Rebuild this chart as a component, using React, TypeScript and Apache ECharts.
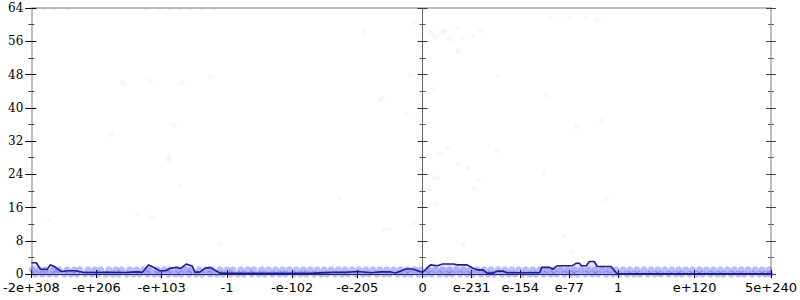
import React, { useEffect, useRef } from "react";
import * as echarts from "echarts";

// Horizontal axis is a float-ordering scale; positions are given in axis units where 0 is the zero point.
const X_MIN = -394;
const X_MAX = 351;
const tickValues = [-394, -328.3, -262.7, -197, -131.3, -65.7, 0, 49.3, 98.5, 147.8, 197, 274, 351];
const tickLabels = ["-2e+308", "-e+206", "-e+103", "-1", "-e-102", "-e-205", "0", "e-231", "e-154", "e-77", "1", "e+120", "5e+240"];

// Sparse scatter points [x, y]
const sparsePoints: [number, number][] = [
  [-392, 63.8], [-389, 63.8], [-382, 63.8], [-372, 63.8], [-357, 63.8],
  [-279, 63.8], [-264, 63.8], [-254, 63.8], [-245, 63.8], [-235, 63.8], [-222, 63.8], [-210, 63.8],
  [-302, 46.0], [-274, 46.5], [-242, 46.0], [-214, 47.4],
  [-9, 60.5], [-1, 57.7], [9, 58], [12, 57], [20, 58], [22, 58.5], [25, 56.8], [28, 56.5],
  [35, 59], [40, 56.8], [51, 57.3], [58, 58.5], [36, 53.7], [-12, 47.9], [76, 47.6], [10, 44.5], [-40, 42.3],
  [128, 61.6], [148, 61.6], [165, 61.6], [176, 61.3], [125, 43],
  [-376, 12.8], [-313, 33.6], [-250, 35.8], [-256, 27.4], [-255, 27.9], [-245, 21.2], [-287, 14.4], [-273, 13.6],
  [-43, 41.9], [-16, 38.3], [25, 30.2], [18, 28.9], [36, 26.6], [46, 25.5], [75, 29.7], [11, 23.2], [15, 23.1],
  [56, 22.6], [7, 20.5], [52, 20.5], [-84, 18.3], [14, 17], [-9, 12.3], [-39, 10.7], [-33, 10.7], [-59, 58.4],
  [155, 35.4], [181, 36.9], [122, 24.3], [185, 18], [142, 9.1], [151, 5.5],
  [41, 7], [9, 3.5], [66, 1.4], [-204, 7],
];

// Dense low-count points: x positions at y = 1 and y = 0
const bandXAtOne = [-393, -386, -380, -372, -366, -358, -351, -345, -337, -330, -324, -316, -309, -303, -295, -288, -281, -275, -267, -260, -254, -246, -239, -233, -225, -218, -212, -204, -197, -191, -183, -176, -170, -162, -155, -148, -141, -134, -127, -120, -113, -106, -99, -92, -85, -78, -71, -64, -57, -50, -43, -36, -29, -22, -15, -8, -2, 6, 13, 20, 27, 34, 41, 48, 55, 62, 69, 76, 83, 90, 97, 104, 111, 118, 125, 132, 139, 146, 153, 160, 167, 174, 181, 188, 195, 202, 209, 216, 223, 230, 237, 244, 251, 258, 265, 272, 279, 286, 293, 300, 307, 314, 321, 328, 335, 342, 349];
const bandXAtZero = [-390, -383, -376, -369, -361, -354, -348, -340, -333, -327, -319, -312, -306, -298, -291, -285, -277, -270, -264, -256, -249, -243, -235, -228, -222, -214, -207, -201, -193, -186, -180, -172, -165, -159, -151, -144, -138, -130, -123, -117, -109, -102, -96, -88, -81, -75, -67, -60, -54, -46, -39, -33, -25, -18, -12, -4, 3, 9, 17, 24, 30, 38, 45, 51, 59, 66, 72, 80, 87, 93, 101, 108, 114, 122, 129, 135, 143, 150, 156, 164, 171, 177, 185, 192, 198, 206, 213, 219, 227, 234, 240, 248, 255, 261, 269, 276, 282, 290, 297, 303, 311, 318, 324, 332, 339, 345, 350];

// Summary line [x, y]
const linePoints: [number, number][] = [
  [-394, 2.7], [-389, 2.7], [-385, 1.2], [-378, 1.1], [-375, 2.2], [-371, 1.8], [-364, 0.6], [-357, 0.8],
  [-350, 0.8], [-342, 0.4], [-330, 0.35], [-318, 0.4], [-306, 0.35], [-296, 0.4], [-288, 0.5], [-282, 0.4],
  [-276, 2.2], [-270, 1.5], [-265, 0.8], [-259, 0.8], [-254, 1.4], [-248, 1.6], [-244, 1.3], [-238, 2.4],
  [-232, 1.9], [-229, 0.4], [-224, 0.5], [-219, 1.4], [-214, 1.6], [-209, 0.9], [-204, 0.2], [-190, 0.15],
  [-170, 0.15], [-150, 0.15], [-130, 0.15], [-110, 0.2], [-89, 0.4], [-77, 0.4], [-65, 0.6], [-52, 0.3],
  [-42, 0.5], [-32, 0.5], [-27, 0.25], [-17, 1.2], [-10, 1.2], [-5, 0.8], [0, 0.4], [8, 2.2], [15, 2.0],
  [20, 2.4], [31, 2.4], [35, 2.2], [45, 2.2], [51, 1.4], [55, 1.0], [61, 1.0], [65, 0.2], [71, 0.2],
  [75, 0.7], [81, 0.7], [85, 0.3], [118, 0.3], [120, 1.6], [128, 1.6], [131, 1.1], [136, 2.0], [151, 2.0],
  [155, 2.6], [158, 2.6], [160, 2.0], [165, 2.0], [168, 3.0], [173, 3.0], [176, 1.8], [190, 1.8],
  [196, 0.05], [351, 0.05],
];

const Y_MIN = 0;
const Y_MAX = 64;
const Y_STEP = 8;

function labelFor(v: number): string {
  let best = 0;
  for (let i = 1; i < tickValues.length; i++) {
    if (Math.abs(tickValues[i] - v) < Math.abs(tickValues[best] - v)) best = i;
  }
  return tickLabels[best];
}

function yAxisDef(opts: {
  position: "left" | "right";
  onZero: boolean;
  inside: boolean;
  labels: boolean;
  lineColor: string;
  lineWidth: number;
  lineShow: boolean;
  tickColor: string;
  tickLen: number;
  minorColor: string;
}) {
  return {
    type: "value",
    min: Y_MIN,
    max: Y_MAX,
    interval: Y_STEP,
    position: opts.position,
    axisLine: {
      show: opts.lineShow,
      onZero: opts.onZero,
      lineStyle: { color: opts.lineColor, width: opts.lineWidth },
    },
    axisTick: {
      show: true,
      inside: opts.inside,
      length: opts.tickLen,
      lineStyle: { color: opts.tickColor, width: 1 },
    },
    minorTick: {
      show: true,
      splitNumber: 2,
      length: 3,
      lineStyle: { color: opts.minorColor, width: 1 },
    },
    axisLabel: {
      show: opts.labels,
      margin: 8,
      color: "#000",
      fontFamily: "'DejaVu Serif', 'Liberation Serif', serif",
      fontSize: 12,
    },
    splitLine: { show: false },
    minorSplitLine: { show: false },
  };
}

export default function App() {
  const ref = useRef<HTMLDivElement>(null);

  useEffect(() => {
    if (!ref.current) return;
    const chart = echarts.init(ref.current, undefined, { renderer: "svg" });

    const xCommon = {
      type: "value",
      min: X_MIN,
      max: X_MAX,
      splitLine: { show: false },
    };

    chart.setOption({
      animation: false,
      grid: { left: 28, right: 27, top: 8, bottom: 26, containLabel: false },
      xAxis: [
        {
          ...xCommon,
          position: "bottom",
          axisLine: { show: true, onZero: false, lineStyle: { color: "#222", width: 1 } },
          axisTick: {
            show: true,
            inside: false,
            length: 4,
            customValues: tickValues,
            lineStyle: { color: "#000" },
          },
          axisLabel: {
            show: true,
            customValues: tickValues,
            formatter: (v: number) => labelFor(v),
            margin: 7,
            color: "#000",
            fontFamily: "'DejaVu Sans', sans-serif",
            fontSize: 13,
          },
        },
        {
          ...xCommon,
          position: "bottom",
          axisLine: { show: false, onZero: false },
          axisTick: {
            show: true,
            inside: true,
            length: 4,
            customValues: tickValues,
            lineStyle: { color: "#000" },
          },
          axisLabel: { show: false },
        },
        {
          ...xCommon,
          position: "top",
          axisLine: { show: true, onZero: false, lineStyle: { color: "#bdbdbd", width: 2 } },
          axisTick: { show: false },
          axisLabel: { show: false },
        },
      ],
      yAxis: [
        yAxisDef({ position: "left", onZero: false, inside: false, labels: true, lineColor: "#bdbdbd", lineWidth: 2, lineShow: true, tickColor: "#000", tickLen: 6, minorColor: "#444" }),
        yAxisDef({ position: "left", onZero: false, inside: true, labels: false, lineColor: "#bdbdbd", lineWidth: 2, lineShow: false, tickColor: "#000", tickLen: 5, minorColor: "#444" }),
        yAxisDef({ position: "left", onZero: true, inside: false, labels: false, lineColor: "#666", lineWidth: 1, lineShow: true, tickColor: "#333", tickLen: 5, minorColor: "#555" }),
        yAxisDef({ position: "left", onZero: true, inside: true, labels: false, lineColor: "#666", lineWidth: 1, lineShow: false, tickColor: "#333", tickLen: 5, minorColor: "#555" }),
        yAxisDef({ position: "right", onZero: false, inside: false, labels: false, lineColor: "#bdbdbd", lineWidth: 2, lineShow: true, tickColor: "#444", tickLen: 5, minorColor: "#666" }),
        yAxisDef({ position: "right", onZero: false, inside: true, labels: false, lineColor: "#bdbdbd", lineWidth: 2, lineShow: false, tickColor: "#444", tickLen: 5, minorColor: "#666" }),
      ],
      series: [
        {
          type: "scatter",
          xAxisIndex: 0,
          yAxisIndex: 0,
          symbolSize: 7,
          silent: true,
          itemStyle: { color: "#3030e6", opacity: 0.33 },
          data: [
            ...bandXAtOne.map((x) => [x, 1]),
            ...bandXAtZero.map((x) => [x, 0]),
          ],
          z: 2,
        },
        {
          type: "scatter",
          xAxisIndex: 0,
          yAxisIndex: 0,
          symbolSize: 5,
          silent: true,
          itemStyle: { color: "#4848f0", opacity: 0.05 },
          data: sparsePoints,
          z: 2,
        },
        {
          type: "line",
          xAxisIndex: 0,
          yAxisIndex: 0,
          data: linePoints,
          showSymbol: false,
          symbol: "none",
          lineStyle: { color: "#1e1e8c", width: 1.6 },
          areaStyle: { color: "rgba(120,120,240,0.3)" },
          z: 3,
        },
      ],
    });

    return () => chart.dispose();
  }, []);

  return <div ref={ref} style={{ width: 800, height: 300, position: "absolute", left: 0, top: 0 }} />;
}
